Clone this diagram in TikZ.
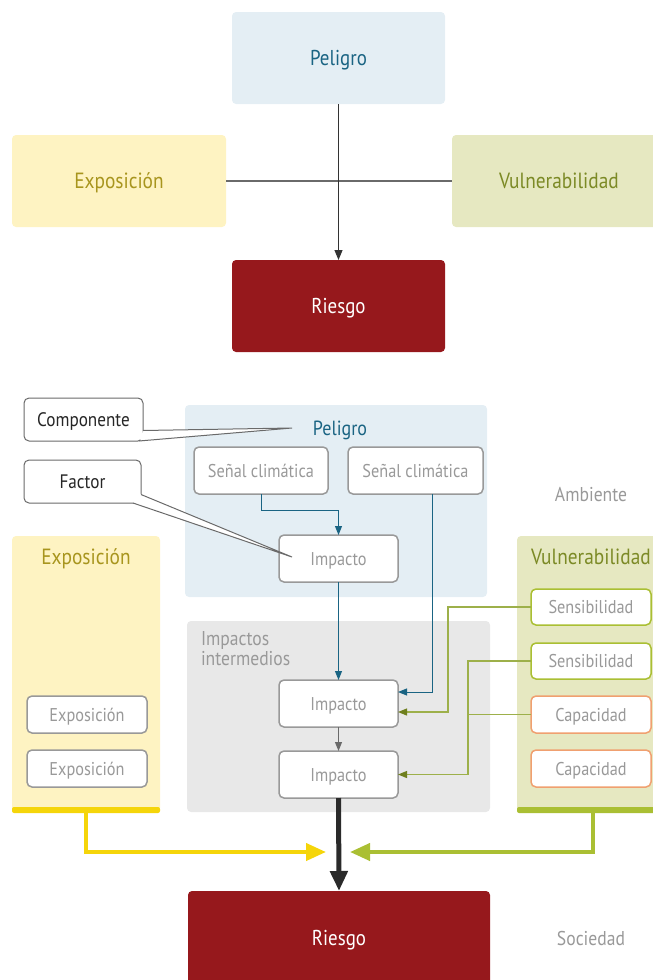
\documentclass[tikz,border=0pt]{standalone}
\usepackage{fontspec}
\setmainfont{PT Sans}[FakeStretch=0.88]
\usetikzlibrary{arrows.meta}
\definecolor{pelFill}{HTML}{E4EEF4}
\definecolor{pelText}{HTML}{1A6483}
\definecolor{expoFill}{HTML}{FEF3C2}
\definecolor{expoText}{HTML}{A8951E}
\definecolor{vulFill}{HTML}{E6E8C1}
\definecolor{vulText}{HTML}{7C8A26}
\definecolor{riesgoFill}{HTML}{96181C}
\definecolor{boxGray}{HTML}{999999}
\definecolor{panelGray}{HTML}{E8E8E8}
\definecolor{lineGray}{HTML}{6A6A6A}
\definecolor{greenLine}{HTML}{9DB04A}
\definecolor{greenTip}{HTML}{6F7F1E}
\definecolor{yellowArrow}{HTML}{F5D50A}
\definecolor{greenArrow}{HTML}{AABF33}
\definecolor{orangeBorder}{HTML}{F0A070}
\definecolor{blackArrow}{HTML}{2A2A2A}
\begin{document}
\begin{tikzpicture}[x=1pt,y=-1pt,
  every node/.style={inner sep=0pt, outer sep=0pt},
  bigbox/.style={rounded corners=4pt, font=\fontsize{21.5}{24}\selectfont, text height=15pt, text depth=0pt},
  panel/.style={rounded corners=4pt},
  smallbox/.style={draw=boxGray, line width=1.5pt, fill=white, rounded corners=5pt, text=boxGray, font=\fontsize{18.5}{21}\selectfont, text height=13pt, text depth=0pt},
  callbox/.style={draw=lineGray, line width=1pt, fill=white, rounded corners=5pt, text=black!85, font=\fontsize{19.5}{22}\selectfont, text height=13.6pt, text depth=0pt},
  paneltitle/.style={font=\fontsize{22}{25}\selectfont, text height=15.4pt, text depth=0pt},
  side/.style={text=boxGray, font=\fontsize{20}{22}\selectfont, text height=14pt, text depth=0pt},
  tealarrow/.style={draw=pelText, line width=1pt, -{Triangle[length=9pt,width=7pt]}},
  greenarrow/.style={draw=greenLine, line width=1.2pt, -{Triangle[length=9pt,width=7pt,color=greenTip]}},
  greenline/.style={draw=greenLine, line width=1.2pt},
  fatarrow/.style={line width=4.5pt, -{Triangle[length=20pt,width=17pt]}}
]
\useasboundingbox (0,0) rectangle (653,980);

% ---------- top diagram ----------
\node[bigbox, fill=pelFill, text=pelText, minimum width=213, minimum height=92] (P1) at (338.5,58) {Peligro};
\node[bigbox, fill=expoFill, text=expoText, minimum width=214, minimum height=92, font=\fontsize{22}{25}\selectfont] (E1) at (119,181) {Exposición};
\node[bigbox, fill=vulFill, text=vulText, minimum width=214, minimum height=92, font=\fontsize{22}{25}\selectfont] (V1) at (559,181) {Vulnerabilidad};
\node[bigbox, fill=riesgoFill, text=white, minimum width=213, minimum height=92] (R1) at (338.5,306) {Riesgo};
\draw[lineGray, line width=1.2pt] (E1.east) -- (V1.west);
\draw[black!80, line width=1pt, -{Triangle[length=10pt,width=8pt]}] (P1.south) -- (R1.north);

% ---------- bottom diagram: panels ----------
\node[panel, fill=pelFill, minimum width=302, minimum height=192] (PelPanel) at (336,501) {};
\node[panel, fill=panelGray, minimum width=303, minimum height=191] (GrayPanel) at (338.5,716.5) {};
\node[panel, fill=expoFill, minimum width=148, minimum height=276] (ExpoPanel) at (86,674) {};
\fill[yellowArrow, rounded corners=2pt] (12,807) rectangle (160,813);
\node[panel, fill=vulFill, minimum width=152, minimum height=276] (VulPanel) at (593,674) {};
\fill[greenArrow, rounded corners=2pt] (517,807) rectangle (680,813);

\node[text=pelText, font=\fontsize{20.5}{23}\selectfont, text height=14.3pt, text depth=0pt] (PelLabel) at (340,428) {Peligro};
\node[paneltitle, text=expoText] (ExpoLabel) at (86,557) {Exposición};
\node[paneltitle, text=vulText] (VulLabel) at (591,557) {Vulnerabilidad};
\node[text=boxGray, anchor=north west, align=left, font=\fontsize{20}{20}\selectfont] (ImpLabel) at (201,631) {Impactos\\intermedios};
\node[side] (Ambiente) at (591,494) {Ambiente};
\node[side] (Sociedad) at (591,938) {Sociedad};

% ---------- boxes ----------
\node[smallbox, minimum width=134, minimum height=47] (S1) at (261,470.5) {Señal climática};
\node[smallbox, minimum width=135, minimum height=47] (S2) at (415.5,470.5) {Señal climática};
\node[smallbox, minimum width=119, minimum height=47] (I1) at (338.5,558.5) {Impacto};
\node[smallbox, minimum width=119, minimum height=47] (I2) at (338.5,703.5) {Impacto};
\node[smallbox, minimum width=119, minimum height=47] (I3) at (338.5,774.5) {Impacto};
\node[smallbox, minimum width=120, minimum height=37] (EB1) at (87,714.5) {Exposición};
\node[smallbox, minimum width=120, minimum height=37] (EB2) at (87,768.5) {Exposición};
\node[smallbox, draw=greenArrow, minimum width=120, minimum height=36] (VB1) at (591,607) {Sensibilidad};
\node[smallbox, draw=greenArrow, minimum width=120, minimum height=36] (VB2) at (591,661) {Sensibilidad};
\node[smallbox, draw=orangeBorder, minimum width=120, minimum height=37] (CB1) at (591,714.5) {Capacidad};
\node[smallbox, draw=orangeBorder, minimum width=120, minimum height=37] (CB2) at (591,768.5) {Capacidad};
\node[bigbox, fill=riesgoFill, text=white, minimum width=302, minimum height=94] (R2) at (339,938) {Riesgo};

% ---------- callouts ----------
\node[callbox, minimum width=119, minimum height=43] (Comp) at (83.5,419.5) {Componente};
\node[callbox, minimum width=117, minimum height=43] (Fact) at (82.5,481.5) {Factor};
\coordinate (tipC) at (292,428);
\coordinate (tipF) at (292,557);
\fill[white] ([yshift=-11pt]Comp.east) -- (tipC) -- ([xshift=-3pt,yshift=1pt]Comp.south east) -- ([xshift=-3pt]Comp.south east) -- cycle;
\draw[lineGray, line width=1pt] ([yshift=-11pt]Comp.east) -- (tipC) -- ([xshift=-4pt]Comp.south east);
\fill[white] ([yshift=-13pt]Fact.east) -- (tipF) -- ([xshift=-8pt]Fact.south east) -- ([xshift=-1pt,yshift=-12pt]Fact.east) -- cycle;
\draw[lineGray, line width=1pt] ([yshift=-13pt]Fact.east) -- (tipF) -- ([xshift=-8pt]Fact.south east);

% ---------- connectors ----------
\coordinate (g1) at (448,0);
\coordinate (g2) at (468,0);
\coordinate (t2) at (432,0);
\draw[tealarrow] (S1.south) -- ++(0,16) -| (I1.north);
\draw[tealarrow] (S2.south -| t2) |- ([yshift=11.5pt]I2.east);
\draw[tealarrow] (I1.south) -- (I2.north);
\draw[draw=lineGray, line width=1pt, -{Triangle[length=9pt,width=7pt]}] (I2.south) -- (I3.north);
\draw[greenarrow] (VB1.west) -- (VB1.west -| g1) |- ([yshift=-8.5pt]I2.east);
\draw[greenarrow] (VB2.west) -- (VB2.west -| g2) |- (I3.east);
\draw[greenline] (CB1.west) -- (CB1.west -| g2);

\coordinate (joinL) at (326,852);
\coordinate (joinR) at (350,852);
\draw[fatarrow, draw=yellowArrow, line width=4pt] (ExpoPanel.south) |- (joinL);
\draw[fatarrow, draw=greenArrow, line width=4pt] (VulPanel.south) |- (joinR);
\draw[fatarrow, draw=blackArrow, line width=5pt] (I3.south) -- (R2.north);
\end{tikzpicture}
\end{document}
